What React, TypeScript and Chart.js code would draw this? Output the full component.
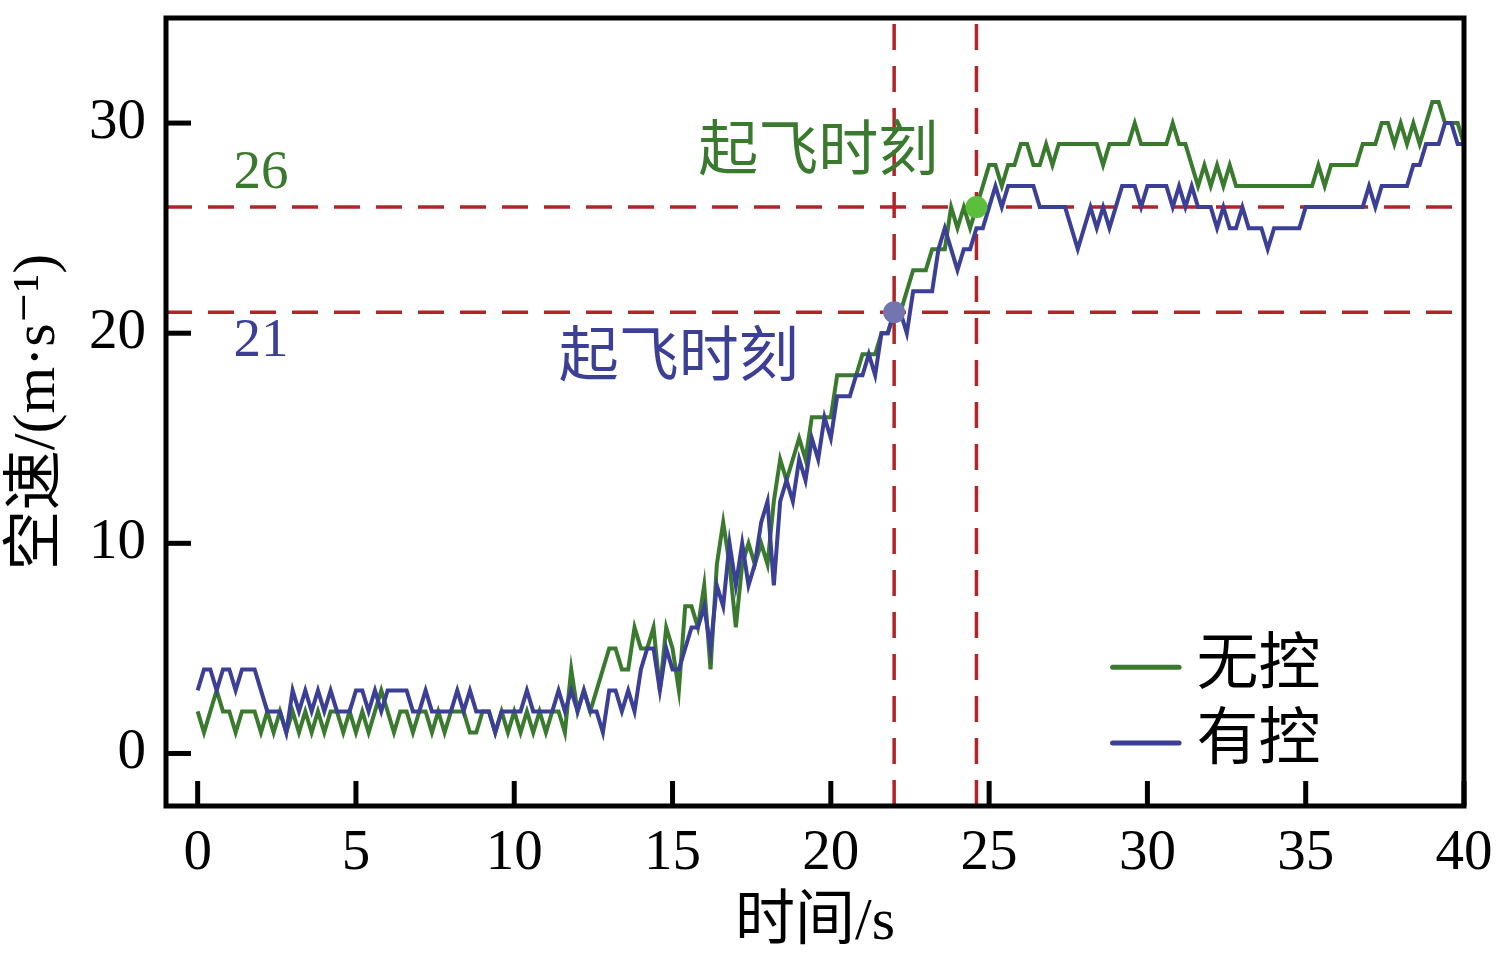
import { useEffect, useRef } from 'react';
import { Chart, registerables } from 'chart.js';

Chart.register(...registerables);

// sampling step of both records, s
const timeStep = 0.2;

// 无控 (no control) airspeed, m/s
const noControl = [
  2, 1, 2, 3, 2, 2, 1, 2, 2, 2,
  1, 2, 1, 2, 1, 2, 1, 2, 1, 2,
  1, 2, 2, 1, 2, 1, 2, 1, 2, 3,
  2, 1, 2, 2, 1, 2, 2, 1, 2, 1,
  2, 2, 2, 1, 1, 2, 2, 1, 2, 1,
  2, 1, 2, 1, 2, 1, 2, 2, 1, 4,
  2, 3, 2, 3, 4, 5, 5, 4, 4, 6,
  5, 5, 6, 3, 6, 5, 3, 7, 7, 6,
  8, 4, 9, 11, 9, 6, 9, 10, 9, 10,
  9, 12, 14, 13, 14, 15, 14, 16, 16, 16,
  16, 18, 18, 18, 18, 19, 19, 19, 20, 20,
  21, 21, 22, 23, 23, 23, 24, 24, 24, 26,
  25, 26, 25, 26, 27, 28, 28, 27, 28, 28,
  29, 29, 28, 28, 29, 28, 29, 29, 29, 29,
  29, 29, 29, 28, 29, 29, 29, 29, 30, 29,
  29, 29, 29, 29, 30, 29, 29, 28, 27, 28,
  27, 28, 27, 28, 27, 27, 27, 27, 27, 27,
  27, 27, 27, 27, 27, 27, 27, 28, 27, 28,
  28, 28, 28, 28, 29, 29, 29, 30, 30, 29,
  30, 29, 30, 29, 30, 31, 31, 30, 30, 30,
  29,
];

// 有控 (with control) airspeed, m/s
const withControl = [
  3, 4, 4, 3, 4, 4, 3, 4, 4, 4,
  3, 2, 2, 2, 1, 3, 2, 3, 2, 3,
  2, 3, 2, 2, 2, 3, 3, 2, 3, 2,
  3, 3, 3, 3, 2, 2, 3, 2, 2, 2,
  2, 3, 2, 3, 2, 2, 2, 1, 2, 2,
  2, 2, 3, 2, 2, 2, 2, 3, 2, 3,
  2, 3, 2, 2, 1, 3, 3, 2, 3, 2,
  4, 5, 5, 3, 5, 4, 4, 5, 6, 6,
  7, 5, 8, 7, 10, 8, 10, 8, 9, 11,
  12, 8, 12, 13, 12, 14, 13, 15, 14, 16,
  15, 17, 17, 17, 18, 18, 19, 18, 20, 20,
  21, 21, 20, 22, 22, 22, 22, 24, 25, 24,
  23, 24, 24, 25, 25, 26, 27, 26, 27, 27,
  27, 27, 27, 26, 26, 26, 26, 26, 25, 24,
  25, 26, 25, 26, 25, 26, 27, 27, 27, 26,
  27, 27, 27, 27, 26, 27, 26, 27, 26, 26,
  26, 25, 26, 25, 25, 26, 25, 25, 25, 24,
  25, 25, 25, 25, 25, 26, 26, 26, 26, 26,
  26, 26, 26, 26, 26, 27, 26, 27, 27, 27,
  27, 27, 28, 28, 29, 29, 29, 30, 30, 29,
  29,
];

const xTicks = [0, 5, 10, 15, 20, 25, 30, 35, 40];
const yTicks = [0, 10, 20, 30];

// takeoff moments: [time s, speed m/s]
const takeoffNoControl = [24.6, 26];
const takeoffWithControl = [22.0, 21];

const seriesNames = ['无控', '有控'];

const GREEN = '#3a7a2e';
const BLUE = '#3b3f96';
const RED = '#b02528';
const FONT = '"Liberation Serif", "DejaVu Serif", "Noto Sans CJK SC", serif';

const X_MIN = -1;
const X_MAX = 40;
const Y_MIN = -2.5;
const Y_MAX = 35;

const toPoints = (vals: number[]) => vals.map((v, i) => ({ x: +(i * timeStep).toFixed(1), y: v }));

const decorations = {
  id: 'decorations',
  afterDraw(chart: any) {
    const { ctx, chartArea: a, scales } = chart;
    const xs = scales.x;
    const ys = scales.y;
    const px = (v: number) => xs.getPixelForValue(v);
    const py = (v: number) => ys.getPixelForValue(v);
    ctx.save();

    // inward ticks
    ctx.strokeStyle = '#000';
    ctx.lineWidth = 5;
    xTicks.forEach((v) => {
      ctx.beginPath();
      ctx.moveTo(px(v), a.bottom);
      ctx.lineTo(px(v), a.bottom - 25);
      ctx.stroke();
    });
    yTicks.forEach((v) => {
      ctx.beginPath();
      ctx.moveTo(a.left, py(v));
      ctx.lineTo(a.left + 25, py(v));
      ctx.stroke();
    });
    // frame
    ctx.strokeRect(a.left, a.top, a.right - a.left, a.bottom - a.top);

    // level labels and takeoff notes
    ctx.textAlign = 'center';
    ctx.textBaseline = 'middle';
    ctx.font = `55px ${FONT}`;
    ctx.fillStyle = GREEN;
    ctx.fillText(String(takeoffNoControl[1]), px(2.0), py(27.6));
    ctx.fillStyle = BLUE;
    ctx.fillText(String(takeoffWithControl[1]), px(2.0), py(19.6));

    ctx.font = `60px ${FONT}`;
    ctx.fillStyle = GREEN;
    ctx.fillText('起飞时刻', px(19.6), py(28.5));
    ctx.fillStyle = BLUE;
    ctx.fillText('起飞时刻', px(15.2), py(18.7));

    // legend
    const rows = [
      { name: seriesNames[0], color: GREEN, y: 4.1 },
      { name: seriesNames[1], color: BLUE, y: 0.5 },
    ];
    ctx.textAlign = 'left';
    ctx.font = `62px ${FONT}`;
    rows.forEach((r) => {
      ctx.strokeStyle = r.color;
      ctx.lineWidth = 5;
      ctx.lineCap = 'round';
      ctx.beginPath();
      ctx.moveTo(px(28.9), py(r.y));
      ctx.lineTo(px(31.0), py(r.y));
      ctx.stroke();
      ctx.fillStyle = '#000';
      ctx.fillText(r.name, px(31.55), py(r.y));
    });
    ctx.restore();
  },
};

const App = () => {
  const canvasRef = useRef<HTMLCanvasElement | null>(null);
  const chartRef = useRef<Chart | null>(null);

  useEffect(() => {
    document.body.style.margin = '0';
    if (!canvasRef.current) return;
    const ctx = canvasRef.current.getContext('2d');
    if (!ctx) return;
    if (chartRef.current) chartRef.current.destroy();

    const dashed = (pts: { x: number; y: number }[]) => ({
      data: pts,
      borderColor: RED,
      borderWidth: 3.5,
      borderDash: [26, 16],
      pointRadius: 0,
      order: 10,
    });

    chartRef.current = new Chart(ctx, {
      type: 'line',
      data: {
        datasets: [
          dashed([{ x: X_MIN, y: takeoffNoControl[1] }, { x: X_MAX, y: takeoffNoControl[1] }]),
          dashed([{ x: X_MIN, y: takeoffWithControl[1] }, { x: X_MAX, y: takeoffWithControl[1] }]),
          dashed([{ x: takeoffWithControl[0], y: Y_MIN }, { x: takeoffWithControl[0], y: Y_MAX }]),
          dashed([{ x: takeoffNoControl[0], y: Y_MIN }, { x: takeoffNoControl[0], y: Y_MAX }]),
          {
            label: seriesNames[0],
            data: toPoints(noControl),
            borderColor: GREEN,
            borderWidth: 4,
            pointRadius: 0,
            tension: 0,
            order: 2,
          },
          {
            label: seriesNames[1],
            data: toPoints(withControl),
            borderColor: BLUE,
            borderWidth: 4,
            pointRadius: 0,
            tension: 0,
            order: 1,
          },
          {
            data: [{ x: takeoffNoControl[0], y: takeoffNoControl[1] }],
            showLine: false,
            pointRadius: 11,
            pointBackgroundColor: '#5cbf3c',
            pointBorderWidth: 0,
            order: 0,
          },
          {
            data: [{ x: takeoffWithControl[0], y: takeoffWithControl[1] }],
            showLine: false,
            pointRadius: 11,
            pointBackgroundColor: '#7275b0',
            pointBorderWidth: 0,
            order: 0,
          },
        ],
      },
      options: {
        responsive: true,
        maintainAspectRatio: false,
        animation: false,
        layout: { padding: { top: 18, right: 46, left: 0, bottom: 0 } },
        plugins: {
          legend: { display: false },
          tooltip: { enabled: false },
        },
        scales: {
          x: {
            type: 'linear',
            min: X_MIN,
            max: X_MAX,
            afterFit: (s: any) => {
              s.height = 167;
              s.paddingLeft = 0;
              s.paddingRight = 0;
            },
            afterBuildTicks: (s: any) => {
              s.ticks = xTicks.map((v) => ({ value: v }));
            },
            grid: { display: false, drawTicks: false },
            border: { display: false },
            ticks: {
              padding: 14,
              color: '#000',
              font: { family: FONT, size: 57 },
              maxRotation: 0,
              autoSkip: false,
            },
            title: {
              display: true,
              text: '时间/s',
              color: '#000',
              font: { family: FONT, size: 60 },
              padding: { top: 0, bottom: 14 },
            },
          },
          y: {
            type: 'linear',
            min: Y_MIN,
            max: Y_MAX,
            afterFit: (s: any) => {
              s.width = 166;
              s.paddingTop = 0;
              s.paddingBottom = 0;
            },
            afterBuildTicks: (s: any) => {
              s.ticks = yTicks.map((v) => ({ value: v }));
            },
            grid: { display: false, drawTicks: false },
            border: { display: false },
            ticks: {
              padding: 20,
              color: '#000',
              font: { family: FONT, size: 57 },
            },
            title: {
              display: true,
              text: '空速/(m·s⁻¹)',
              color: '#000',
              font: { family: FONT, size: 60 },
              padding: { top: 2, bottom: 0 },
            },
          },
        },
      },
      plugins: [decorations],
    });

    return () => {
      chartRef.current?.destroy();
    };
  }, []);

  return (
    <div style={{ position: 'relative', width: 1510, height: 973, background: '#fff' }}>
      <canvas ref={canvasRef} />
    </div>
  );
};

export default App;
